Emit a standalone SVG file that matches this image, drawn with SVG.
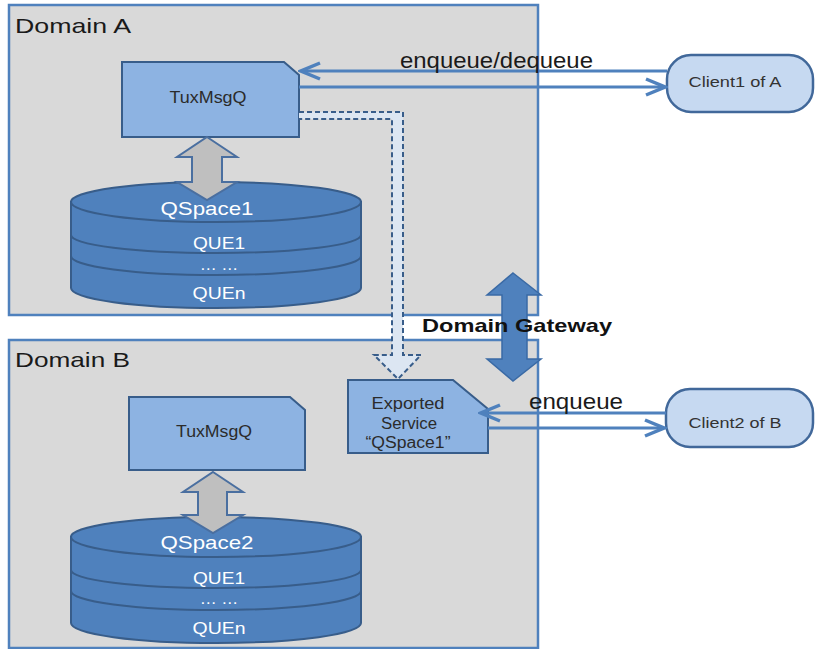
<svg xmlns="http://www.w3.org/2000/svg" width="815" height="649" viewBox="0 0 815 649">
<style>
.domain{fill:#d9d9d9;stroke:#4f81bd;stroke-width:2.5}
.box{fill:#8db3e2;stroke:#385d8a;stroke-width:2}
.cyl{fill:#4f81bd;stroke:#385d8a;stroke-width:2}
.cylline{fill:none;stroke:#385d8a;stroke-width:2}
.client{fill:#c6d9f1;stroke:#41689a;stroke-width:2.5}
.garrow{fill:#bfbfbf;stroke:#4a6fa0;stroke-width:2}
.line{stroke:#4f81bd;stroke-width:3;fill:none}
.t{font-family:"Liberation Sans",Arial,sans-serif}
.dl{font-size:21px;fill:#1a1a1a}
.bt{font-size:16px;fill:#2b2b2b;text-anchor:middle}
.ct{font-size:19px;fill:#ffffff;text-anchor:middle}
.qt{font-size:17px;fill:#ffffff;text-anchor:middle}
.lt{font-size:22px;fill:#1a1a1a}
.cl{font-size:15px;fill:#333333;text-anchor:middle}
</style>
<defs>
<marker id="ah" markerUnits="userSpaceOnUse" markerWidth="24" markerHeight="20" viewBox="0 0 24 20" refX="21" refY="10" orient="auto">
<path d="M2,2 L21,10 L2,18" fill="none" stroke="#4f81bd" stroke-width="3.5"/>
</marker>
</defs>

<g id="domainA">
<rect class="domain" x="9" y="5" width="529" height="310"/>
<text class="t dl" x="15" y="33" textLength="116" lengthAdjust="spacingAndGlyphs">Domain A</text>
</g>
<g id="domainB">
<rect class="domain" x="9" y="340" width="529" height="308"/>
<text class="t dl" x="15" y="367" textLength="115" lengthAdjust="spacingAndGlyphs">Domain B</text>
</g>

<g id="qspace1">
<path class="cyl" d="M71,202 L71,288 A145,20 0 0 0 361,288 L361,202 Z"/>
<ellipse class="cyl" cx="216" cy="202" rx="145" ry="20"/>
<path class="cylline" d="M71,235 A145,18 0 0 0 361,235 M71,256 A145,19 0 0 0 361,256"/>
<text class="t ct" x="207" y="215" textLength="93" lengthAdjust="spacingAndGlyphs">QSpace1</text>
<text class="t qt" x="219" y="249" textLength="52" lengthAdjust="spacingAndGlyphs">QUE1</text>
<text class="t qt" x="219" y="270" font-size="13">… …</text>
<text class="t qt" x="219" y="299" textLength="53" lengthAdjust="spacingAndGlyphs">QUEn</text>
</g>

<g id="qspace2">
<path class="cyl" d="M71,537 L71,623 A145,20 0 0 0 361,623 L361,537 Z"/>
<ellipse class="cyl" cx="216" cy="537" rx="145" ry="20"/>
<path class="cylline" d="M71,570 A145,18 0 0 0 361,570 M71,591 A145,19 0 0 0 361,591"/>
<text class="t ct" x="207" y="549" textLength="93" lengthAdjust="spacingAndGlyphs">QSpace2</text>
<text class="t qt" x="219" y="584" textLength="52" lengthAdjust="spacingAndGlyphs">QUE1</text>
<text class="t qt" x="219" y="604" font-size="13">… …</text>
<text class="t qt" x="219" y="634" textLength="53" lengthAdjust="spacingAndGlyphs">QUEn</text>
</g>

<g id="tuxmsgqA">
<path class="box" d="M122,62 L284,62 L299,75 L299,137 L122,137 Z"/>
<text class="t bt" x="208" y="103" textLength="77" lengthAdjust="spacingAndGlyphs">TuxMsgQ</text>
</g>

<g id="tuxmsgqB">
<path class="box" d="M129,397 L290,397 L305,410 L305,470 L129,470 Z"/>
<text class="t bt" x="214" y="437" textLength="76" lengthAdjust="spacingAndGlyphs">TuxMsgQ</text>
</g>

<g id="exported">
<path class="box" d="M348,380 L453,380 L488,409 L488,453 L348,453 Z"/>
<text class="t bt" x="408" y="409" font-size="15" textLength="73" lengthAdjust="spacingAndGlyphs">Exported</text>
<text class="t bt" x="409" y="429" font-size="15" textLength="56" lengthAdjust="spacingAndGlyphs">Service</text>
<text class="t bt" x="408" y="448" font-size="15" textLength="85" lengthAdjust="spacingAndGlyphs">“QSpace1”</text>
</g>

<g id="client1">
<rect class="client" x="667" y="55" width="146" height="57" rx="24" ry="24"/>
<text class="t cl" x="735" y="87" textLength="93" lengthAdjust="spacingAndGlyphs">Client1 of A</text>
</g>

<g id="client2">
<rect class="client" x="666" y="389" width="147" height="58" rx="24" ry="24"/>
<text class="t cl" x="735" y="428" textLength="93" lengthAdjust="spacingAndGlyphs">Client2 of B</text>
</g>

<g id="connectors">
<polygon class="garrow" points="207,137 237,157 222,157 222,182 237,182 207,200 177,182 192,182 192,157 177,157"/>
<polygon class="garrow" points="213,472 243,492 227,492 227,515 243,515 213,533 183,515 198,515 198,492 183,492"/>
<path d="M299,112 L403,112 L403,355 L421,355 L398,379 L374,355 L392,355 L392,119 L299,119" fill="#dce6f2" stroke="#385d8a" stroke-width="2" stroke-dasharray="5,3"/>
<line class="line" x1="667" y1="71" x2="301" y2="71" marker-end="url(#ah)"/>
<line class="line" x1="299" y1="87" x2="665" y2="87" marker-end="url(#ah)"/>
<line class="line" x1="666" y1="413" x2="481" y2="413" marker-end="url(#ah)"/>
<line class="line" x1="488" y1="428" x2="664" y2="428" marker-end="url(#ah)"/>
<polygon points="513,273 541,295 527,295 527,359 541,359 513,381 487,359 502,359 502,295 487,295" fill="#4f81bd" stroke="#3a6aa5" stroke-width="1.5"/>
<text class="t lt" x="400" y="68" textLength="193" lengthAdjust="spacingAndGlyphs">enqueue/dequeue</text>
<text class="t lt" x="529" y="409" textLength="94" lengthAdjust="spacingAndGlyphs">enqueue</text>
<text class="t" x="422" y="332" font-size="19" font-weight="bold" fill="#111111" textLength="190" lengthAdjust="spacingAndGlyphs">Domain Gateway</text>
</g>
</svg>
